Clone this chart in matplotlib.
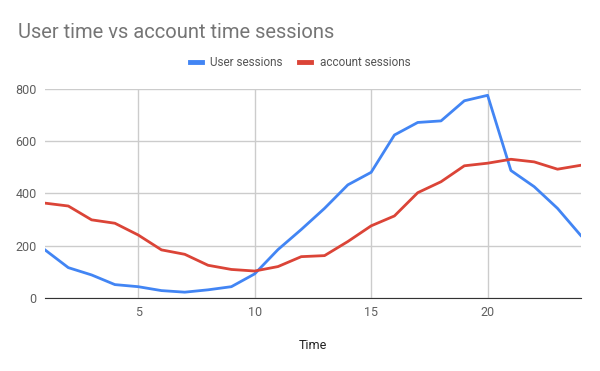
import matplotlib
matplotlib.use('Agg')
import matplotlib.pyplot as plt

plt.rcParams['font.family'] = ['Roboto', 'DejaVu Sans']

hours = list(range(1, 25))
user_sessions = [184, 116, 88, 51, 43, 28, 22, 31, 43, 92, 185, 262, 343, 433, 481,
                 624, 672, 678, 755, 776, 488, 426, 343, 239]
account_sessions = [363, 352, 299, 286, 241, 184, 167, 125, 109, 103, 120, 158, 162, 216, 276,
                    314, 403, 445, 506, 516, 531, 521, 493, 508]

fig = plt.figure(figsize=(6, 3.71), dpi=100)
ax = fig.add_axes([0.075, 0.197, 0.893, 0.563])

ax.plot(hours, user_sessions, color='#4285f4', lw=2, label='User sessions')
ax.plot(hours, account_sessions, color='#db4437', lw=2, label='account sessions')

ax.set_xlim(1, 24)
ax.set_ylim(0, 800)
ax.set_xticks([5, 10, 15, 20])
ax.set_yticks([0, 200, 400, 600, 800])
ax.grid(True, color='#cccccc', lw=1)
ax.set_axisbelow(True)
for s in ['top', 'right', 'left']:
    ax.spines[s].set_visible(False)
ax.spines['bottom'].set_color('#333333')
ax.tick_params(length=0, labelsize=9, colors='#5f5f5f', pad=6)
ax.set_xlabel('Time', fontsize=9, color='#222222', labelpad=14)

fig.text(0.03, 0.912, 'User time vs account time sessions', fontsize=14.5, color='#757575',
         va='center', ha='left')
fig.legend(loc='center', bbox_to_anchor=(0.5, 0.832), ncol=2, frameon=False,
           fontsize=8.5, handlelength=1.0, handletextpad=0.7, columnspacing=1.45,
           labelcolor='#555555')
for line in fig.legends[0].get_lines():
    line.set_linewidth(3.5)

fig.savefig('out.png', dpi=100)
